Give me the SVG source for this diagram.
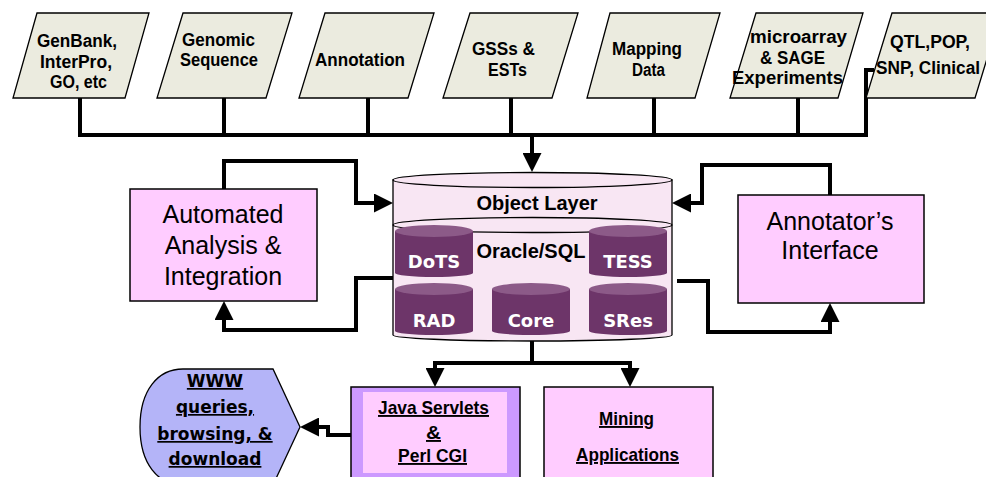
<svg xmlns="http://www.w3.org/2000/svg" width="986" height="477" viewBox="0 0 986 477">
<defs>
<style>
.para{fill:#ebebdf;stroke:#000;stroke-width:1.3}
.pt{font-family:"Liberation Sans",Arial,sans-serif;font-weight:bold;font-size:18px;fill:#000}
.box{fill:#ffccff;stroke:#000;stroke-width:1.5}
.bt{font-family:"Liberation Sans",Arial,sans-serif;font-size:25px;fill:#000;text-anchor:middle}
.ct{font-family:"Liberation Sans",Arial,sans-serif;font-weight:bold;font-size:20px;fill:#000;text-anchor:middle}
.cyl{fill:#f8e6f3;stroke:#000;stroke-width:1.3}
.sbody{fill:#6d3569}
.stop{fill:#8c5a88}
.st{font-family:"DejaVu Sans",Verdana,sans-serif;font-weight:bold;font-size:18px;fill:#fff;text-anchor:middle}
.ut{font-family:"Liberation Sans",Arial,sans-serif;font-weight:bold;font-size:19px;fill:#000;text-decoration:underline}
.wt{font-family:"DejaVu Sans",Verdana,sans-serif;font-weight:bold;font-size:17px;fill:#000;text-anchor:middle;text-decoration:underline}
.conn{fill:none;stroke:#000;stroke-width:4;stroke-linejoin:miter}
.arr{marker-end:url(#ah)}
</style>
<marker id="ah" viewBox="0 0 19 19" markerWidth="19" markerHeight="19" refX="1" refY="9.5" orient="auto" markerUnits="userSpaceOnUse">
<path d="M0,0 L19,9.5 L0,19 z" fill="#000"/>
</marker>
</defs>
<rect x="0" y="0" width="986" height="477" fill="#fff"/>

<g id="connectors">
<path class="conn" d="M80,98 V135 H866 V70 H874"/>
<path class="conn" d="M224,98 V135"/>
<path class="conn" d="M368,98 V135"/>
<path class="conn" d="M511,98 V135"/>
<path class="conn" d="M654,98 V135"/>
<path class="conn" d="M798,98 V135"/>
<path class="conn arr" d="M532,135 V154"/>
<path class="conn arr" d="M224,189 V161 H356 V203 H375"/>
<path class="conn arr" d="M393,278 H356 V330 H224 V319"/>
<path class="conn arr" d="M830,195 V165 H702 V203 H690"/>
<path class="conn arr" d="M677,281 H708 V332 H830 V321"/>
<path class="conn" d="M532,341 V363"/>
<path class="conn arr" d="M534,363 H435 V369"/>
<path class="conn arr" d="M530,363 H630 V369"/>
<path class="conn arr" d="M351,435 H328 V427 H318"/>
</g>

<g id="genbank">
<polygon class="para" points="37,13 149,13 125,98 13,98"/>
<text class="pt" x="37" y="47" textLength="80" lengthAdjust="spacingAndGlyphs">GenBank,</text>
<text class="pt" x="40" y="68" textLength="72" lengthAdjust="spacingAndGlyphs">InterPro,</text>
<text class="pt" x="50" y="88" textLength="57" lengthAdjust="spacingAndGlyphs">GO, etc</text>
</g>
<g id="genomic">
<polygon class="para" points="183,13 292,13 266,98 157,98"/>
<text class="pt" x="182" y="46" textLength="73" lengthAdjust="spacingAndGlyphs">Genomic</text>
<text class="pt" x="180" y="66" textLength="78" lengthAdjust="spacingAndGlyphs">Sequence</text>
</g>
<g id="annotation">
<polygon class="para" points="325,13 434,13 408,98 299,98"/>
<text class="pt" x="315" y="66" textLength="90" lengthAdjust="spacingAndGlyphs">Annotation</text>
</g>
<g id="gsss">
<polygon class="para" points="470,13 578,13 552,98 443,98"/>
<text class="pt" x="472" y="55" textLength="63" lengthAdjust="spacingAndGlyphs">GSSs &amp;</text>
<text class="pt" x="488" y="76" textLength="39" lengthAdjust="spacingAndGlyphs">ESTs</text>
</g>
<g id="mapping">
<polygon class="para" points="610,13 720,13 695,98 587,98"/>
<text class="pt" x="612" y="55" textLength="70" lengthAdjust="spacingAndGlyphs">Mapping</text>
<text class="pt" x="632" y="76" textLength="33" lengthAdjust="spacingAndGlyphs">Data</text>
</g>
<g id="microarray">
<polygon class="para" points="756,13 863,13 838,98 730,98"/>
<text class="pt" x="750" y="43" textLength="97" lengthAdjust="spacingAndGlyphs">microarray</text>
<text class="pt" x="760" y="64" textLength="65" lengthAdjust="spacingAndGlyphs">&amp; SAGE</text>
<text class="pt" x="732" y="84" textLength="111" lengthAdjust="spacingAndGlyphs">Experiments</text>
</g>
<g id="qtl">
<polygon class="para" points="892,13 1001,13 975,98 866,98"/>
<text class="pt" x="890" y="48" textLength="80" lengthAdjust="spacingAndGlyphs">QTL,POP,</text>
<text class="pt" x="876" y="74" textLength="104" lengthAdjust="spacingAndGlyphs">SNP, Clinical</text>
</g>

<g id="automated">
<rect class="box" x="130" y="189" width="187" height="112"/>
<text class="bt" x="223" y="223">Automated</text>
<text class="bt" x="223" y="254">Analysis &amp;</text>
<text class="bt" x="223" y="285">Integration</text>
</g>

<g id="annotator">
<rect class="box" x="738" y="195" width="186" height="108"/>
<text class="bt" x="830" y="230">Annotator’s</text>
<text class="bt" x="830" y="259">Interface</text>
</g>

<g id="database">
<path class="cyl" d="M393,180 V335 A139.5,6 0 0 0 672,335 V180 Z"/>
<ellipse class="cyl" cx="532.5" cy="180" rx="139.5" ry="7.5"/>
<ellipse class="cyl" cx="532.5" cy="225" rx="139.5" ry="7.5"/>
<text class="ct" x="537" y="210">Object Layer</text>
<text class="ct" x="531" y="258">Oracle/SQL</text>
</g>
<g id="dots">
<path class="sbody" d="M395,231 V273 A39,4 0 0 0 473,273 V231 Z"/>
<ellipse class="stop" cx="434" cy="231" rx="39" ry="6"/>
<text class="st" x="434" y="268">DoTS</text>
</g>
<g id="tess">
<path class="sbody" d="M589,231 V273 A39,4 0 0 0 667,273 V231 Z"/>
<ellipse class="stop" cx="628" cy="231" rx="39" ry="6"/>
<text class="st" x="628" y="268">TESS</text>
</g>
<g id="rad">
<path class="sbody" d="M395,289 V331 A39,4 0 0 0 473,331 V289 Z"/>
<ellipse class="stop" cx="434" cy="289" rx="39" ry="6"/>
<text class="st" x="434" y="327">RAD</text>
</g>
<g id="core">
<path class="sbody" d="M492,289 V331 A39,4 0 0 0 570,331 V289 Z"/>
<ellipse class="stop" cx="531" cy="289" rx="39" ry="6"/>
<text class="st" x="531" y="327">Core</text>
</g>
<g id="sres">
<path class="sbody" d="M589,289 V331 A39,4 0 0 0 667,331 V289 Z"/>
<ellipse class="stop" cx="628" cy="289" rx="39" ry="6"/>
<text class="st" x="628" y="327">SRes</text>
</g>

<g id="java">
<rect x="351" y="387" width="169" height="100" fill="#cc99ff" stroke="#000" stroke-width="1.5"/>
<rect x="363" y="392" width="144" height="81" fill="#ffccff"/>
<text class="ut" x="378" y="414" textLength="111" lengthAdjust="spacingAndGlyphs">Java Servlets</text>
<text class="ut" x="426" y="439" textLength="15" lengthAdjust="spacingAndGlyphs">&amp;</text>
<text class="ut" x="398" y="462" textLength="69" lengthAdjust="spacingAndGlyphs">Perl CGI</text>
</g>

<g id="mining">
<rect class="box" x="544" y="387" width="169" height="100"/>
<text class="ut" x="599" y="425" textLength="55" lengthAdjust="spacingAndGlyphs">Mining</text>
<text class="ut" x="576" y="461" textLength="103" lengthAdjust="spacingAndGlyphs">Applications</text>
</g>

<g id="www">
<path d="M183,369 H273 L300,427 L273,485 H183 C158,485 140,464 140,427 C140,390 158,369 183,369 Z" fill="#b4b4f8" stroke="#000" stroke-width="1.3"/>
<text class="wt" x="215" y="387">WWW</text>
<text class="wt" x="215" y="413">queries,</text>
<text class="wt" x="215" y="440">browsing, &amp;</text>
<text class="wt" x="215" y="465">download</text>
</g>
</svg>
